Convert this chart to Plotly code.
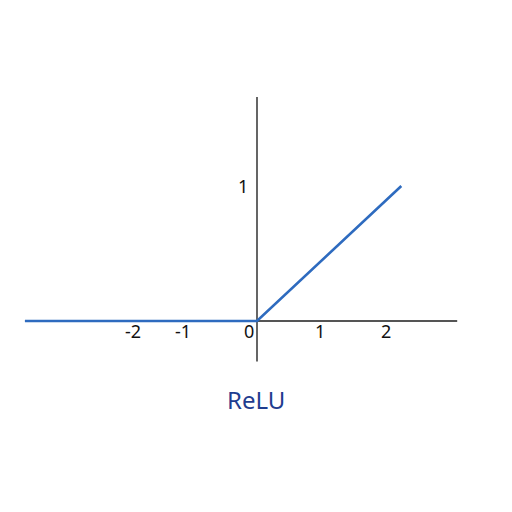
import plotly.graph_objects as go

# Data
relu_x = [-3.57, 0.0, 2.22]
relu_y = [0.0, 0.0, 1.0]
x_tick_vals = [-2, -1, 0, 1, 2]
x_tick_text = ["-2", "-1", "0", "1", "2"]
y_tick_vals = [1]
y_tick_text = ["1"]
title_text = "ReLU"

# axis extents (data units)
x_axis_span = [-3.57, 3.08]
y_axis_span = [-0.30, 1.66]

# label nudges (px)
x_label_shift = [6, -9, -8, -2, -1]

OFF = 8  # page body margin

fig = go.Figure()

fig.add_shape(type="line", x0=x_axis_span[0], x1=x_axis_span[1], y0=0, y1=0,
              xref="x", yref="y", line=dict(color="#555555", width=1.8), layer="below")
fig.add_shape(type="line", x0=0, x1=0, y0=y_axis_span[0], y1=y_axis_span[1],
              xref="x", yref="y", line=dict(color="#555555", width=1.8), layer="below")

fig.add_trace(go.Scatter(x=relu_x, y=relu_y, mode="lines",
                         line=dict(color="#2e6bbf", width=2.6), hoverinfo="skip"))

for v, t, s in zip(x_tick_vals, x_tick_text, x_label_shift):
    fig.add_annotation(x=v, y=0, text=t, showarrow=False, xref="x", yref="y",
                       yanchor="middle", yshift=-10, xshift=s,
                       font=dict(family="Noto Sans", size=18, color="#111111"))
for v, t in zip(y_tick_vals, y_tick_text):
    fig.add_annotation(x=0, y=v, text=t, showarrow=False, xref="x", yref="y",
                       xanchor="center", xshift=-14,
                       font=dict(family="Noto Sans", size=18, color="#111111"))

fig.add_annotation(x=(256 - OFF) / 512, y=(512 - (399 - OFF)) / 512, xref="paper", yref="paper",
                   text=title_text, showarrow=False, yanchor="middle", xanchor="center",
                   font=dict(family="Noto Sans", size=24, color="#1f3d8f"))

x0px = 257 - OFF
y0px = 321 - OFF
fig.update_layout(
    width=512, height=512,
    margin=dict(l=0, r=0, t=0, b=0),
    paper_bgcolor="white", plot_bgcolor="white",
    showlegend=False,
    xaxis=dict(range=[-x0px / 65, (512 - x0px) / 65], visible=False, fixedrange=True),
    yaxis=dict(range=[-(512 - y0px) / 135, y0px / 135], visible=False, fixedrange=True),
)

fig.write_html("out.html")
